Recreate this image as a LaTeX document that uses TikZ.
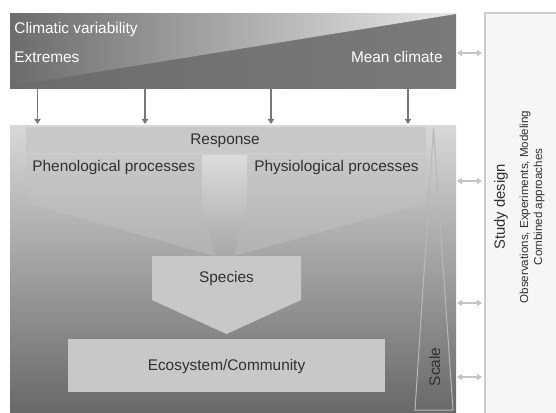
\documentclass[tikz,border=0pt]{standalone}
\usepackage{fontspec}
\setmainfont{Liberation Sans}
\usetikzlibrary{arrows.meta}
\definecolor{bandark}{HTML}{6C6C6C}
\definecolor{bandarkr}{HTML}{7A7A7A}
\definecolor{banlight}{HTML}{E8E8E8}
\definecolor{maintop}{HTML}{D8D8D8}
\definecolor{mainbot}{HTML}{686868}
\definecolor{boxfill}{HTML}{C8C8C8}
\definecolor{funtop}{HTML}{C8C8C8}
\definecolor{funbot}{HTML}{B2B2B2}
\definecolor{coltop}{HTML}{DCDCDC}
\definecolor{colbot}{HTML}{A8A8A8}
\definecolor{txtgray}{HTML}{303030}
\definecolor{arrgray}{HTML}{787878}
\definecolor{lightarr}{HTML}{C4C4C4}
\definecolor{panelfill}{HTML}{F6F6F6}
\definecolor{paneldraw}{HTML}{CCCCCC}
\definecolor{scaledraw}{HTML}{B8B8B8}
\begin{document}
\begin{tikzpicture}[x=0.5pt,y=-0.5pt,
  lbl/.style={inner sep=0pt, text=txtgray, font=\fontsize{7.7}{9}\selectfont},
  wlbl/.style={lbl, text=white},
  downarr/.style={draw=arrgray, line width=0.75pt, -{Triangle[length=2.6pt,width=3.2pt]}},
  duoarr/.style={draw=lightarr, line width=0.75pt, {Triangle[length=2.4pt,width=3pt]}-{Triangle[length=2.4pt,width=3pt]}},
  plainbox/.style={fill=boxfill}
]
\useasboundingbox (0,0) rectangle (556,412);
% right panel
\path[fill=panelfill, draw=paneldraw, line width=0.8pt] (485,13) rectangle (570,430);
% banner
\path[left color=bandark, right color=bandarkr] (10,13) rectangle (456,88);
\path[left color=bandark, right color=banlight] (10,13) -- (456,13) -- (456,14) -- (10,86) -- cycle;
\coordinate (b1) at (37.5,88);  \coordinate (m1) at (37.5,124);
\coordinate (b2) at (145,88);   \coordinate (m2) at (145,124);
\coordinate (b3) at (271,88);   \coordinate (m3) at (271,124);
\coordinate (b4) at (408,88);   \coordinate (m4) at (408,124);
% main box
\path[top color=maintop, bottom color=mainbot] (10,125) rectangle (456,414);
% response band
\path[plainbox] (26,127) rectangle (426,153);
% funnel
\path[top color=funtop, bottom color=funbot] (26,155) -- (426,155) -- (426,203) -- (234,256) -- (215,256) -- (26,203) -- cycle;
\path[top color=coltop, bottom color=colbot] (202,155) -- (247,155) -- (247,203) -- (234,256) -- (215,256) -- (202,203) -- cycle;
% species
\path[plainbox] (152,256) -- (301,256) -- (301,300) -- (226.5,334) -- (152,300) -- cycle;
% ecosystem
\path[plainbox] (68,339) rectangle (385,392);
% scale triangle
\path[draw=scaledraw, line width=0.5pt] (433.5,128) -- (453,410) -- (415,410) -- cycle;
% texts
\node[wlbl, anchor=base west] (cv) at (14,33.3) {Climatic variability};
\node[wlbl, anchor=base west] (ex) at (14,62) {Extremes};
\node[wlbl, anchor=base east] (mc) at (443,62) {Mean climate};
\node[lbl, anchor=base] (resp) at (225,144) {Response};
\node[lbl, anchor=base west] (phen) at (32,171) {Phenological processes};
\node[lbl, anchor=base east] (phys) at (419,171) {Physiological processes};
\node[lbl, anchor=base] (spec) at (226.5,282) {Species};
\node[lbl, anchor=base] (eco) at (226.5,370) {Ecosystem/Community};
\node[lbl, rotate=90] (scale) at (434.5,367) {Scale};
\node[lbl, rotate=90, font=\fontsize{7.4}{9}\selectfont] (sd) at (501,207) {Study design};
\node[lbl, rotate=90, font=\fontsize{5.8}{7}\selectfont] (obs) at (525,207) {Observations, Experiments, Modeling};
\node[lbl, rotate=90, font=\fontsize{5.8}{7}\selectfont] (comb) at (539,207) {Combined approaches};
% down arrows
\draw[downarr] (b1) -- (m1);
\draw[downarr] (b2) -- (m2);
\draw[downarr] (b3) -- (m3);
\draw[downarr] (b4) -- (m4);
% double arrows
\coordinate (l1) at (457,53);  \coordinate (r1) at (482,53);
\coordinate (l2) at (457,181); \coordinate (r2) at (482,181);
\coordinate (l3) at (457,303); \coordinate (r3) at (482,303);
\coordinate (l4) at (457,377); \coordinate (r4) at (482,377);
\draw[duoarr] (l1) -- (r1);
\draw[duoarr] (l2) -- (r2);
\draw[duoarr] (l3) -- (r3);
\draw[duoarr] (l4) -- (r4);
\end{tikzpicture}
\end{document}
